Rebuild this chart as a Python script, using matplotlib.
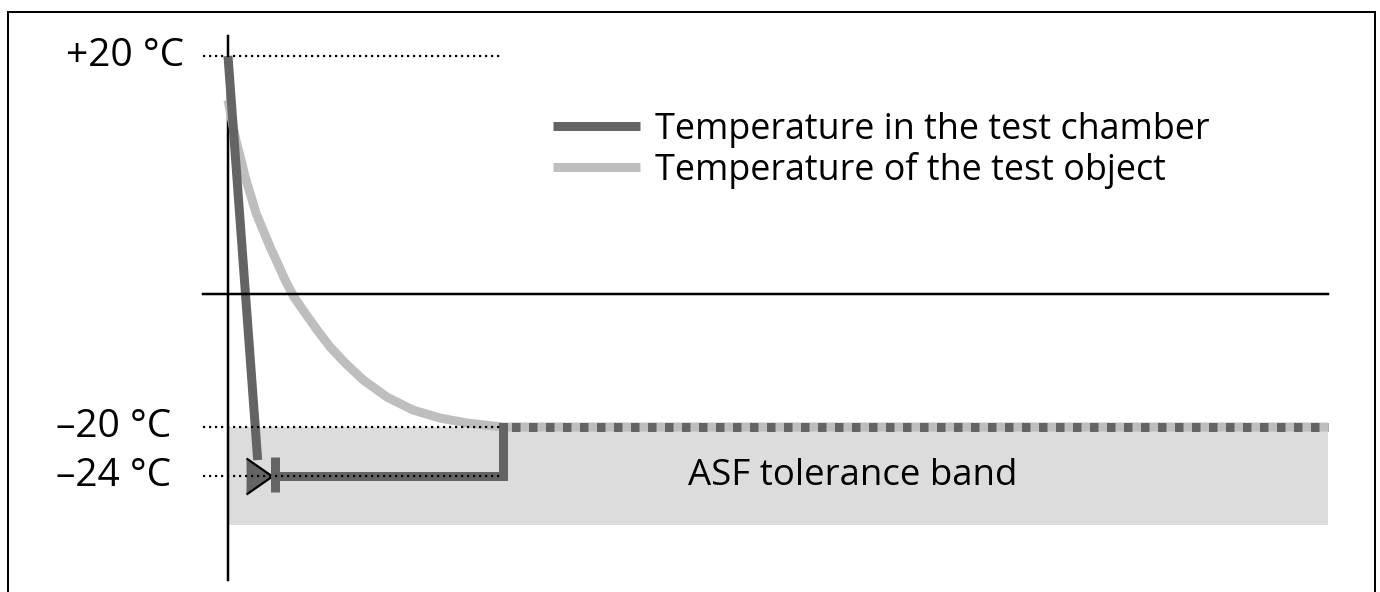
import numpy as np
import matplotlib
matplotlib.use("Agg")
import matplotlib.pyplot as plt
from matplotlib.lines import Line2D
from matplotlib.patches import Rectangle

plt.rcParams['font.family'] = ['Open Sans', 'DejaVu Sans']
plt.rcParams['lines.scale_dashes'] = False

W, H, DPI = 1380, 592, 100
PT = 72 / DPI          # points per pixel

DARK = '#646464'
LIGHT = '#bebebe'
BAND = '#dcdcdc'
LW = 9 * PT

# the drawing is schematic: the temperature axis is stretched piecewise
scale_T = [-80, -24, -20, 0, 20, 80]
scale_h = [-570, 116, 165, 298, 536, 1250]   # height from bottom, px

# time in arbitrary units, t = 0 at the vertical axis
t_start, t_end = -41.45, 209.45

# --- data ---------------------------------------------------------------
levels = [20, -20, -24]
level_labels = ['+20 °C', '–20 °C', '–24 °C']
band_T = (-28, -20)
band_t = (0, 200)

chamber_t = [0, 5.4]
chamber_T = [20, -22.7]
arrow_t, arrow_T = 5.6, -24
bar_t = [8.5, 8.5]
bar_T = [-22.45, -25.3]
hold_t = [8.5, 50, 50]
hold_T = [-24, -24, -20]
final_t = [50, 200]
final_T = [-20, -20]

object_t = [0, 0.7, 1.45, 2.35, 3.25, 4.2, 5.1, 6.35, 7.65, 9.1, 10.35, 12.0,
            14.0, 16.2, 18.55, 21.45, 24.55, 28.9, 33.65, 38.55, 43.45, 48.2, 50]
object_T = [16.3, 14.6, 12.9, 11.3, 9.6, 8.2, 6.8, 5.4, 3.95, 2.5, 1.2, -0.45,
            -2.85, -5.4, -7.95, -10.5, -12.9, -15.5, -17.45, -18.65, -19.4, -19.85, -20]

legend_labels = ['Temperature in the test chamber', 'Temperature of the test object']
band_label = 'ASF tolerance band'


def fwd(T):
    return np.interp(T, scale_T, scale_h)


def inv(h):
    return np.interp(h, scale_h, scale_T)


fig = plt.figure(figsize=(W / DPI, H / DPI), dpi=DPI)
ax = fig.add_axes([0, 0, 1, 1])
ax.set_yscale('function', functions=(fwd, inv))
ax.set_xlim(t_start, t_end)
ax.set_ylim(inv(0), inv(H))
ax.axis('off')

# outer frame
fig.add_artist(Rectangle((8 / W, -0.05), 1367 / W, 1 - 12 / H + 0.05,
                         transform=fig.transFigure, fill=False,
                         ec='black', lw=2 * PT))

# tolerance band
ax.fill_between(band_t, band_T[0], band_T[1], color=BAND, lw=0, zorder=1)

# vertical axis
ax.plot([0, 0], [21.7, -32.5], color='black', lw=2.5 * PT, zorder=2)

# object temperature
ax.plot(object_t + final_t[1:], object_T + final_T[1:], color=LIGHT,
        lw=LW, solid_capstyle='butt', solid_joinstyle='round', zorder=3)

# chamber temperature
ax.plot(chamber_t, chamber_T, color=DARK, lw=LW,
        solid_capstyle='butt', zorder=4)
ax.plot(hold_t, hold_T, color=DARK, lw=LW, solid_joinstyle='miter',
        solid_capstyle='projecting', zorder=4)
ax.plot(final_t, final_T, color=DARK, lw=LW,
        linestyle=(8.5 * PT, (8.5 * PT, 8.5 * PT)), dash_capstyle='butt',
        zorder=4)
tri = [(-0.72, -1), (0.72, 0), (-0.72, 1)]
ax.plot([arrow_t], [arrow_T], marker=tri, ms=36 * PT, mfc=DARK,
        mec='black', mew=2.2 * PT, zorder=5)
ax.plot(bar_t, bar_T, color=DARK, lw=LW, solid_capstyle='butt', zorder=6)

# zero line
ax.plot([-4.55, 200], [0, 0], color='black', lw=2.5 * PT, zorder=7)

# dotted reference levels and labels
for T, lab, right in zip(levels, level_labels, [-8.0, -10.4, -10.4]):
    ax.plot([-4.55, 49.8], [T, T], color='black', lw=2.2 * PT,
            linestyle=(0, (2.2 * PT, 3.8 * PT)), dash_capstyle='butt', zorder=8)
    ax.text(right, T, lab, ha='right', va='center', fontsize=28,
            color='black')

ax.text(113.5, -24, band_label, ha='center', va='center', fontsize=26.4,
        color='black', zorder=9)

handles = [Line2D([], [], color=DARK, lw=LW, solid_capstyle='butt'),
           Line2D([], [], color=LIGHT, lw=LW, solid_capstyle='butt')]
ax.legend(handles, legend_labels, loc='upper left',
          bbox_to_anchor=(553 / W, 1 - 112 / H), frameon=False, fontsize=25.8,
          handlelength=2.43, handletextpad=0.42, labelspacing=0.1,
          borderpad=0, borderaxespad=0)

fig.savefig('out.png', dpi=DPI)
